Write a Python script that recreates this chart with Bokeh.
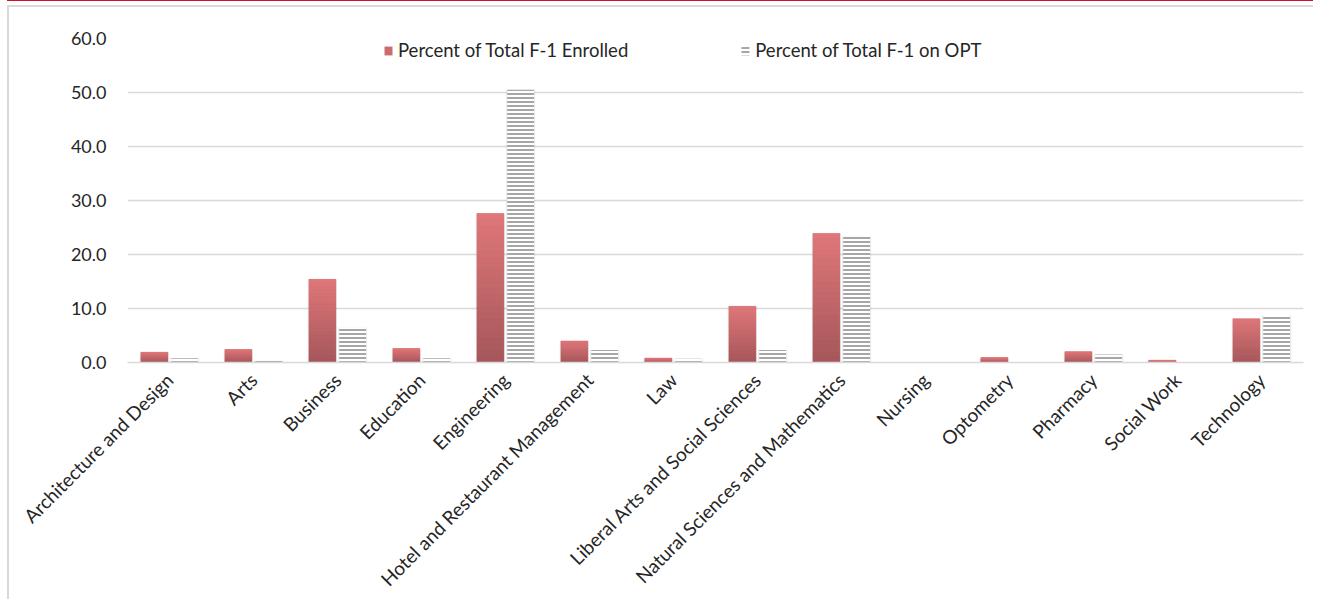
import numpy as np
from bokeh.plotting import figure
from bokeh.models import (FactorRange, Range1d, ColumnDataSource, Legend, LegendItem,
                          NumeralTickFormatter)
from bokeh.transform import dodge
from bokeh.embed import file_html
from bokeh.resources import INLINE

categories = ["Architecture and Design", "Arts", "Business", "Education", "Engineering",
              "Hotel and Restaurant Management", "Law", "Liberal Arts and Social Sciences",
              "Natural Sciences and Mathematics", "Nursing", "Optometry", "Pharmacy",
              "Social Work", "Technology"]
enrolled = [1.9, 2.4, 15.4, 2.6, 27.6, 4.0, 0.8, 10.4, 23.9, 0.0, 0.9, 2.0, 0.4, 8.1]
opt = [0.8, 0.4, 6.5, 0.8, 50.5, 2.3, 0.7, 2.3, 23.4, 0.0, 0.0, 1.5, 0.0, 8.8]
series_names = ["Percent of Total F-1 Enrolled", "Percent of Total F-1 on OPT"]
y_ticks = [0, 10, 20, 30, 40, 50, 60]

FONT = "Lato"
BAR_W = 0.32
OFF = 0.18

p = figure(x_range=FactorRange(*categories), y_range=Range1d(0, 60),
           width=1306, height=594, output_backend="svg", toolbar_location=None,
           min_border_left=118, min_border_right=12, min_border_top=31,
           min_border_bottom=239, background_fill_color="white",
           border_fill_color="white")
p.outline_line_color = None
p.styles = {"border-left": "2px solid #D9D9D9", "border-top": "2px solid #D9D9D9",
            "margin-left": "7px", "margin-top": "5px",
            "box-shadow": "0 -4px 0 0 white, 0 -5px 0 0 #D0102C"}

src = ColumnDataSource(dict(cat=categories, enrolled=enrolled, opt=opt))

# soft shadows
p.vbar(x=dodge("cat", -OFF, range=p.x_range), top="enrolled", bottom=0, width=BAR_W + 0.03,
       source=src, fill_color="black", fill_alpha=0.07, line_color=None)
p.vbar(x=dodge("cat", OFF, range=p.x_range), top="opt", bottom=0, width=BAR_W + 0.03,
       source=src, fill_color="black", fill_alpha=0.07, line_color=None)

# enrolled base bars (legend reference)
r_enr = p.vbar(x=dodge("cat", -OFF, range=p.x_range), top="enrolled", bottom=0, width=BAR_W,
               source=src, fill_color="#CC6A6E", line_color=None)

# gradient slices computed from data
N = 24
top_rgb = np.array([0xE0, 0x78, 0x7A])
bot_rgb = np.array([0xA5, 0x57, 0x5B])
gx, gb, gt, gc = [], [], [], []
for c, v in zip(categories, enrolled):
    for k in range(N):
        t = (k + 0.5) / N
        rgb = (bot_rgb + (top_rgb - bot_rgb) * t).astype(int)
        gx.append(c)
        gb.append(v * k / N)
        gt.append(v * (k + 1) / N)
        gc.append("#%02x%02x%02x" % tuple(rgb))
gsrc = ColumnDataSource(dict(cat=gx, bottom=gb, top=gt, color=gc))
p.vbar(x=dodge("cat", -OFF, range=p.x_range), top="top", bottom="bottom", width=BAR_W,
       source=gsrc, fill_color="color", line_color="color", line_width=0.5)

# OPT hatched bars
r_opt = p.vbar(x=dodge("cat", OFF, range=p.x_range), top="opt", bottom=0, width=BAR_W,
               source=src, fill_color="white", line_color=None,
               hatch_pattern="horizontal_line", hatch_color="#A6A6A6",
               hatch_scale=4, hatch_weight=2)

# axes
p.yaxis.ticker = y_ticks
p.yaxis.formatter = NumeralTickFormatter(format="0.0")
p.yaxis.axis_line_color = None
p.yaxis.major_tick_line_color = None
p.yaxis.minor_tick_line_color = None
p.yaxis.major_label_standoff = 15
p.yaxis.major_label_text_font = FONT
p.yaxis.major_label_text_font_size = "18px"
p.yaxis.major_label_text_color = "#262626"

p.xaxis.axis_line_color = "#D9D9D9"
p.xaxis.axis_line_width = 1.5
p.xaxis.major_tick_line_color = None
p.xaxis.minor_tick_line_color = None
p.xaxis.major_label_orientation = np.pi / 4
p.xaxis.major_label_standoff = 8
p.xaxis.major_label_text_font = FONT
p.xaxis.major_label_text_font_size = "19px"
p.xaxis.major_label_text_color = "#262626"

p.xgrid.grid_line_color = None
p.ygrid.grid_line_color = "#D9D9D9"
p.ygrid.grid_line_width = 1.5

legend = Legend(items=[LegendItem(label=series_names[0], renderers=[r_enr]),
                       LegendItem(label=series_names[1], renderers=[r_opt])],
                orientation="horizontal", location=(256, 301))
legend.background_fill_alpha = 0
legend.border_line_color = None
legend.label_text_font = FONT
legend.label_text_font_size = "18.5px"
legend.label_text_color = "#262626"
legend.glyph_width = 10
legend.glyph_height = 11
legend.label_standoff = 5
legend.spacing = 112
legend.padding = 0
legend.margin = 0
p.add_layout(legend, "center")

open("out.html", "w").write(file_html(p, INLINE))
